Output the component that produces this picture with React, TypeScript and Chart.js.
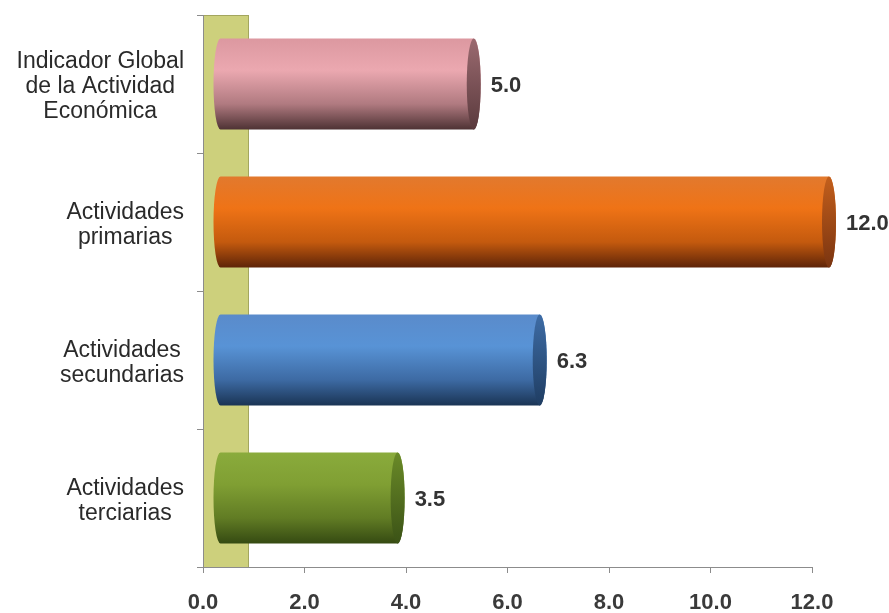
import React, { useEffect, useRef } from "react";
import { Chart, registerables } from "chart.js";

Chart.register(...registerables);

const categories: string[][] = [
  ["Indicador Global", "de la Actividad", "Económica"],
  ["Actividades", "primarias"],
  ["Actividades", "secundarias"],
  ["Actividades", "terciarias"],
];
const values: number[] = [5.0, 12.0, 6.3, 3.5];
const xTicks: number[] = [0, 2, 4, 6, 8, 10, 12];

const barColors = [
  { top: "#dc98a0", mid: "#eba8b0", low: "#b07a80", bottom: "#4e3234", capA: "#9b6a70", capB: "#5a3a3d" },
  { top: "#e2792e", mid: "#ef7316", low: "#c45a0e", bottom: "#5e2408", capA: "#c35f1c", capB: "#7a3410" },
  { top: "#5a8bcb", mid: "#5893d6", low: "#3d6aa3", bottom: "#1a3454", capA: "#3e6ca5", capB: "#1f3d62" },
  { top: "#8aab3c", mid: "#809f33", low: "#617c24", bottom: "#354a12", capA: "#6a8a28", capB: "#3b5216" },
];

const DEPTH = 17;
const RX = 7;
const WALL = 45;
const FONT = "'Liberation Sans', Arial, sans-serif";

const cylinderPlugin = {
  id: "cylinders",
  beforeDraw(chart: any) {
    const { ctx, chartArea, scales } = chart;
    const x0 = scales.x.getPixelForValue(0);
    ctx.save();
    ctx.fillStyle = "#cdd07c";
    ctx.fillRect(x0, chartArea.top, WALL, chartArea.bottom - chartArea.top);
    ctx.strokeStyle = "#a3a65e";
    ctx.lineWidth = 1;
    ctx.strokeRect(Math.round(x0) + 0.5, Math.round(chartArea.top) + 0.5, WALL, chartArea.bottom - chartArea.top);
    ctx.restore();
  },
  afterDatasetsDraw(chart: any) {
    const { ctx } = chart;
    const meta = chart.getDatasetMeta(0);
    meta.data.forEach((bar: any, i: number) => {
      const p = bar.getProps(["x", "y", "base", "height"], true);
      const col = barColors[i % barColors.length];
      const top = p.y - p.height / 2;
      const bottom = p.y + p.height / 2;
      const cy = p.y;
      const ry = p.height / 2;
      const xs = p.base + DEPTH;
      const xe = p.x + DEPTH;
      ctx.save();
      const g = ctx.createLinearGradient(0, top, 0, bottom);
      g.addColorStop(0, col.top);
      g.addColorStop(0.35, col.mid);
      g.addColorStop(0.72, col.low);
      g.addColorStop(1, col.bottom);
      ctx.beginPath();
      ctx.moveTo(xs, top);
      ctx.lineTo(xe, top);
      ctx.ellipse(xe, cy, RX, ry, 0, -Math.PI / 2, Math.PI / 2, false);
      ctx.lineTo(xs, bottom);
      ctx.ellipse(xs, cy, RX, ry, 0, Math.PI / 2, (3 * Math.PI) / 2, false);
      ctx.closePath();
      ctx.fillStyle = g;
      ctx.fill();
      const g2 = ctx.createLinearGradient(0, top, 0, bottom);
      g2.addColorStop(0, col.capA);
      g2.addColorStop(1, col.capB);
      ctx.beginPath();
      ctx.ellipse(xe, cy, RX, ry, 0, 0, Math.PI * 2);
      ctx.fillStyle = g2;
      ctx.fill();
      // value label
      ctx.fillStyle = "#333333";
      ctx.font = `bold 22px ${FONT}`;
      ctx.textAlign = "left";
      ctx.textBaseline = "middle";
      ctx.fillText(values[i].toFixed(1), xe + RX + 10, cy + 2);
      ctx.restore();
    });
  },
  afterDraw(chart: any) {
    const { ctx, scales } = chart;
    const yScale = scales.y;
    const rightEdge = scales.x.getPixelForValue(0) - 19;
    ctx.save();
    ctx.fillStyle = "#2a2a2a";
    ctx.font = `23px ${FONT}`;
    ctx.textAlign = "center";
    ctx.textBaseline = "middle";
    const lh = 25;
    categories.forEach((lines, i) => {
      const cyc = yScale.getPixelForValue(i) + 3;
      const maxW = Math.max(...lines.map((l) => ctx.measureText(l).width));
      const cx = rightEdge - maxW / 2;
      const startY = cyc - ((lines.length - 1) * lh) / 2;
      lines.forEach((l, k) => ctx.fillText(l, cx, startY + k * lh));
    });
    ctx.restore();
  },
};

export default function App() {
  const ref = useRef<HTMLCanvasElement | null>(null);
  useEffect(() => {
    if (!ref.current) return;
    const chart = new Chart(ref.current, {
      type: "bar",
      data: {
        labels: categories.map((c) => c.join(" ")),
        datasets: [
          {
            data: values,
            backgroundColor: "rgba(0,0,0,0)",
            borderWidth: 0,
            barPercentage: 0.66,
            categoryPercentage: 1,
          },
        ],
      },
      options: {
        indexAxis: "y",
        animation: false,
        responsive: false,
        maintainAspectRatio: false,
        layout: { padding: { left: 197, top: 15, right: 77, bottom: 0 } },
        plugins: { legend: { display: false }, tooltip: { enabled: false } },
        scales: {
          x: {
            min: 0,
            max: 12,
            afterBuildTicks: (axis: any) => {
              axis.ticks = xTicks.map((v) => ({ value: v }));
            },
            afterFit: (axis: any) => {
              axis.height = 46;
            },
            ticks: {
              callback: (v: any) => Number(v).toFixed(1),
              font: { family: FONT, size: 22, weight: "bold", lineHeight: 1 },
              color: "#3a3a3a",
              padding: 19,
              maxRotation: 0,
            },
            grid: { drawOnChartArea: false, tickLength: 6, color: "#8c8c8c" },
            border: { display: true, color: "#8c8c8c" },
          },
          y: {
            ticks: { display: false },
            grid: { drawOnChartArea: false, tickLength: 6, color: "#8c8c8c", offset: true },
            border: { display: true, color: "#8c8c8c" },
          },
        },
      } as any,
      plugins: [cylinderPlugin],
    });
    return () => chart.destroy();
  }, []);
  return (
    <div style={{ position: "fixed", left: 0, top: 0, width: 889, height: 613, background: "#ffffff" }}>
      <canvas ref={ref} width={889} height={613} style={{ display: "block" }} />
    </div>
  );
}
